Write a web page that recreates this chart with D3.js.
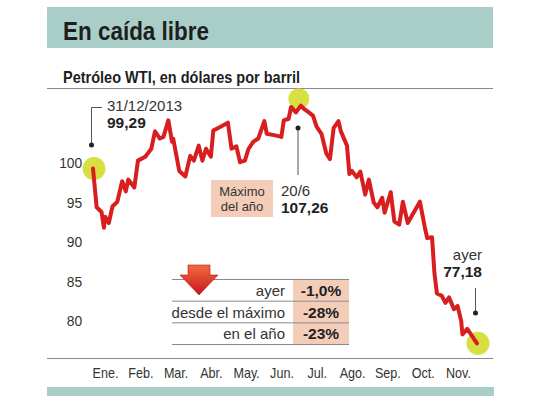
<!DOCTYPE html>
<html>
<head>
<meta charset="utf-8">
<script src="https://cdn.jsdelivr.net/npm/d3@7"></script>
<style>
  body { margin: 0; background: #fff; }
  svg { display: block; font-family: "Liberation Sans", Arial, sans-serif; }
</style>
</head>
<body>
<div id="main"></div>
<script>
// WTI closes 2014
var dates = ["2013-12-31","2014-01-03","2014-01-07","2014-01-09","2014-01-10","2014-01-13","2014-01-16","2014-01-20",
  "2014-01-24","2014-01-27","2014-01-29","2014-02-03","2014-02-06","2014-02-12","2014-02-17","2014-02-20",
  "2014-02-24","2014-02-27","2014-03-03","2014-03-06","2014-03-07","2014-03-12","2014-03-17","2014-03-21",
  "2014-03-24","2014-03-28","2014-03-31","2014-04-03","2014-04-07","2014-04-09","2014-04-15","2014-04-21",
  "2014-04-24","2014-04-28","2014-05-01","2014-05-05","2014-05-08","2014-05-12","2014-05-16","2014-05-21",
  "2014-05-23","2014-05-30","2014-06-04","2014-06-06","2014-06-10","2014-06-12","2014-06-16","2014-06-20",
  "2014-06-23","2014-06-25","2014-06-30","2014-07-03","2014-07-07","2014-07-11","2014-07-14","2014-07-17",
  "2014-07-21","2014-07-23","2014-07-28","2014-07-30","2014-08-01","2014-08-05","2014-08-08","2014-08-12",
  "2014-08-15","2014-08-19","2014-08-22","2014-08-26","2014-08-28","2014-09-02","2014-09-05","2014-09-09",
  "2014-09-12","2014-09-16","2014-09-26","2014-09-30","2014-10-02","2014-10-06","2014-10-08","2014-10-10",
  "2014-10-14","2014-10-17","2014-10-20","2014-10-24","2014-10-27","2014-10-30","2014-10-31","2014-11-04",
  "2014-11-07","2014-11-12"];
var prices = [99.29, 94.4, 93.8, 91.8, 93.2, 92.4, 94.5, 95.1,
  97.7, 96.4, 97.9, 96.9, 100.3, 100.8, 101.8, 104.0,
  103.1, 103.3, 105.4, 102.7, 103.1, 99.0, 98.3, 100.9,
  100.3, 102.2, 100.3, 101.8, 100.8, 104.1, 104.6, 105.1,
  101.8, 102.1, 100.1, 100.3, 101.8, 102.7, 103.1, 105.3,
  103.7, 103.5, 103.3, 105.4, 105.6, 107.1, 106.4, 107.26,
  106.8, 106.6, 106.0, 104.6, 103.7, 101.2, 100.5, 104.4,
  105.3, 104.0, 102.2, 98.6, 99.0, 98.2, 98.9, 96.0,
  97.9, 95.0, 94.4, 95.6, 93.7, 96.3, 92.6, 92.2,
  95.1, 92.4, 95.1, 91.9, 90.5, 90.6, 86.0, 83.5,
  83.2, 82.3, 83.0, 81.5, 81.9, 80.0, 78.3, 79.0,
  78.3, 77.18];

var months = ["Ene.", "Feb.", "Mar.", "Abr.", "May.", "Jun.", "Jul.", "Ago.", "Sep.", "Oct.", "Nov."];
var yTicks = [80, 85, 90, 95, 100];

var tableLabels = ["ayer", "desde el máximo", "en el año"];
var tableValues = ["-1,0%", "-28%", "-23%"];

var parse = d3.timeParse("%Y-%m-%d");
var data = dates.map(function(d, i) { return { date: parse(d), value: prices[i] }; });
var first = data[0], last = data[data.length - 1];
var peak = data.reduce(function(a, b) { return b.value > a.value ? b : a; });

var fmt = function(v) { return d3.format(".2f")(v).replace(".", ","); };

var svg = d3.select("#main").append("svg")
  .attr("width", 540)
  .attr("height", 405);

var teal = "#a9cec8";

// header
svg.append("rect").attr("x", 47).attr("y", 7).attr("width", 446).attr("height", 41).attr("fill", teal);
svg.append("text").attr("x", 63).attr("y", 40)
  .attr("font-size", 26).attr("font-weight", "bold").attr("fill", "#1e1e1e")
  .attr("textLength", 146).attr("lengthAdjust", "spacingAndGlyphs")
  .text("En caída libre");
svg.append("text").attr("x", 63).attr("y", 83)
  .attr("font-size", 16.5).attr("font-weight", "bold").attr("fill", "#1e1e1e")
  .attr("textLength", 237).attr("lengthAdjust", "spacingAndGlyphs")
  .text("Petróleo WTI, en dólares por barril");
svg.append("line").attr("x1", 47).attr("x2", 493).attr("y1", 88.5).attr("y2", 88.5)
  .attr("stroke", "#8a8a8a").attr("stroke-width", 1);

// scales
var x = d3.scaleTime().domain([first.date, last.date]).range([93, 477]);
var y = d3.scaleLinear().domain([80, 100]).range([321, 163]);
var xMonth = d3.scalePoint().domain(months).range([105, 458]);

// y axis
var yAxis = svg.append("g").attr("transform", "translate(84,0)")
  .call(d3.axisLeft(y).tickValues(yTicks).tickSize(0).tickPadding(2));
yAxis.select(".domain").remove();
yAxis.selectAll("text").attr("font-size", 15).attr("fill", "#333")
  .attr("font-family", "'Liberation Sans', Arial, sans-serif")
  .attr("transform", "scale(0.92,1)");

// x axis
svg.append("line").attr("x1", 47).attr("x2", 493).attr("y1", 358.5).attr("y2", 358.5)
  .attr("stroke", "#8a8a8a").attr("stroke-width", 1);
var xAxis = svg.append("g").attr("transform", "translate(0,358)")
  .call(d3.axisBottom(xMonth).tickSize(0).tickPadding(10));
xAxis.select(".domain").remove();
xAxis.selectAll("text").attr("font-size", 14).attr("fill", "#333")
  .attr("font-family", "'Liberation Sans', Arial, sans-serif")
  .attr("transform", "scale(0.9,1)");

svg.append("rect").attr("x", 47).attr("y", 387).attr("width", 447).attr("height", 9).attr("fill", teal);

// highlight dots behind the line
[first, peak, last].forEach(function(d, i) {
  svg.append("circle")
    .attr("cx", x(d.date) + (i == 1 ? -2 : 1))
    .attr("cy", y(d.value) + (i == 1 ? -7 : 0))
    .attr("r", i == 1 ? 10.5 : 11.5)
    .attr("fill", "#d3dc2c").attr("opacity", 0.9);
});

// table
var rowY = d3.scaleBand().domain(tableLabels).range([279, 344]);
var table = svg.append("g");
table.selectAll("rect.cell").data(tableLabels).enter().append("rect")
  .attr("x", 293).attr("width", 56)
  .attr("y", function(d) { return rowY(d); }).attr("height", rowY.bandwidth())
  .attr("fill", "#f4cdb9");
table.selectAll("line.row").data(rowY.domain().map(rowY).concat([344])).enter().append("line")
  .attr("x1", 172).attr("x2", 349)
  .attr("y1", function(d) { return d + 0.5; }).attr("y2", function(d) { return d + 0.5; })
  .attr("stroke", "#8a8a8a").attr("stroke-width", 1);
table.selectAll("text.lab").data(tableLabels).enter().append("text")
  .attr("x", 285).attr("y", function(d) { return rowY(d) + 17; })
  .attr("text-anchor", "end").attr("font-size", 15).attr("fill", "#333")
  .text(function(d) { return d; });
table.selectAll("text.val").data(tableValues).enter().append("text")
  .attr("x", 321).attr("y", function(d, i) { return rowY(tableLabels[i]) + 17; })
  .attr("text-anchor", "middle").attr("font-size", 15.5).attr("font-weight", "bold").attr("fill", "#222")
  .text(function(d) { return d; });

// down arrow
var grad = svg.append("defs").append("linearGradient").attr("id", "arrowGrad")
  .attr("x1", 0).attr("x2", 0).attr("y1", 0).attr("y2", 1);
grad.append("stop").attr("offset", "0%").attr("stop-color", "#f26b3f");
grad.append("stop").attr("offset", "100%").attr("stop-color", "#c8141b");
svg.append("path")
  .attr("transform", "translate(199,265)")
  .attr("d", "M-11,0 L11,0 L11,10 L19,10 L0,30 L-19,10 L-11,10 Z")
  .attr("fill", "url(#arrowGrad)").attr("stroke", "#b3131a").attr("stroke-width", 0.6);

// price line
var line = d3.line()
  .x(function(d) { return x(d.date); })
  .y(function(d) { return y(d.value); });
svg.append("path").datum(data)
  .attr("d", line)
  .attr("fill", "none").attr("stroke", "#d81e1f").attr("stroke-width", 4)
  .attr("stroke-linejoin", "round").attr("stroke-linecap", "round");

// annotations
var ann = svg.append("g").attr("fill", "#222");
var leader = function(pts) {
  ann.append("path").attr("d", d3.line()(pts)).attr("fill", "none").attr("stroke", "#555").attr("stroke-width", 1);
};
// start
leader([[102, 107.5], [91.5, 107.5], [91.5, 145]]);
ann.append("circle").attr("cx", 91.5).attr("cy", 145).attr("r", 2.5);
ann.append("text").attr("x", 107).attr("y", 111).attr("font-size", 15).attr("fill", "#333").text("31/12/2013");
ann.append("text").attr("x", 107).attr("y", 128).attr("font-size", 15.5).attr("font-weight", "bold").text(fmt(first.value));

// peak
leader([[298, 128], [298, 175]]);
ann.append("circle").attr("cx", 298).attr("cy", 128).attr("r", 2.5);
ann.append("rect").attr("x", 211).attr("y", 180).attr("width", 62).attr("height", 37).attr("fill", "#f4cdb9");
ann.append("text").attr("x", 242).attr("y", 196).attr("text-anchor", "middle").attr("font-size", 13).attr("fill", "#333").text("Máximo");
ann.append("text").attr("x", 242).attr("y", 211).attr("text-anchor", "middle").attr("font-size", 13).attr("fill", "#333").text("del año");
ann.append("text").attr("x", 281).attr("y", 196).attr("font-size", 15).attr("fill", "#333").text(d3.timeFormat("%-d/%-m")(peak.date));
ann.append("text").attr("x", 281).attr("y", 213).attr("font-size", 15.5).attr("font-weight", "bold").text(fmt(peak.value));

// last
leader([[475.5, 288], [475.5, 313]]);
ann.append("circle").attr("cx", 475.5).attr("cy", 313).attr("r", 2.5);
ann.append("text").attr("x", 482).attr("y", 260).attr("text-anchor", "end").attr("font-size", 15).attr("fill", "#333").text("ayer");
ann.append("text").attr("x", 482).attr("y", 277).attr("text-anchor", "end").attr("font-size", 15.5).attr("font-weight", "bold").text(fmt(last.value));
</script>
</body>
</html>
